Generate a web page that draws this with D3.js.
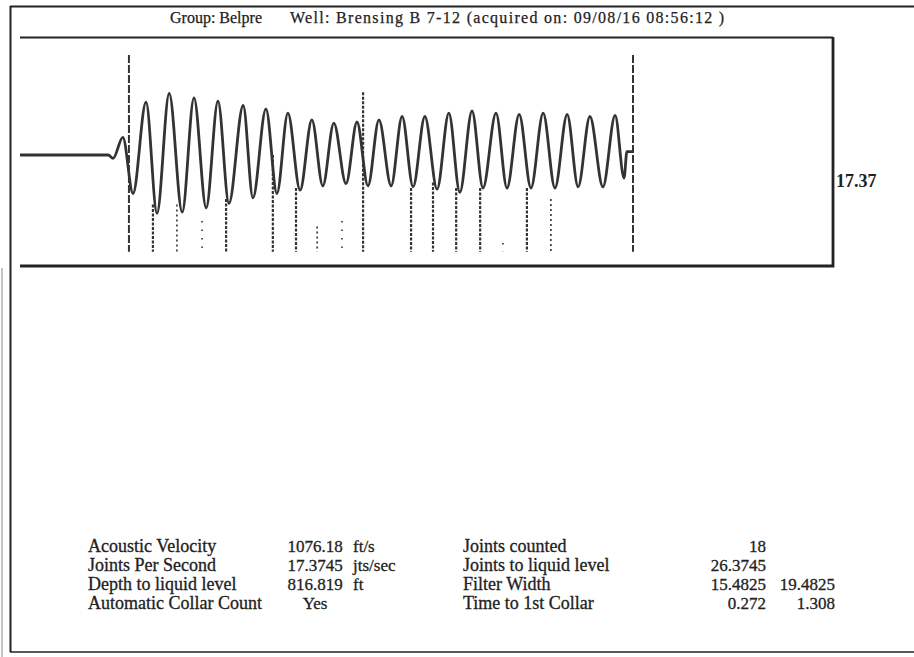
<!DOCTYPE html>
<html><head><meta charset="utf-8">
<script src="https://cdn.jsdelivr.net/npm/d3@7"></script>
<style>body{margin:0;background:#fff;} svg{display:block}</style>
</head><body>
<svg id="c" width="914" height="657"></svg>
<script>
// ---------- data ----------
const titleGroup = "Group: Belpre";
const titleWell = "Well: Brensing B 7-12 (acquired on: 09/08/16 08:56:12 )";

// acoustic trace: time (s) and amplitude of extrema/knots
const waveTime = [0, 0.217, 0.229, 0.253, 0.278, 0.310, 0.337, 0.367, 0.399, 0.428, 0.458, 0.487, 0.514, 0.549, 0.573, 0.605, 0.632, 0.659, 0.689, 0.718, 0.745, 0.772, 0.802, 0.829, 0.856, 0.883, 0.913, 0.940, 0.967, 0.996, 1.026, 1.055, 1.082, 1.112, 1.139, 1.171, 1.198, 1.228, 1.257, 1.287, 1.316, 1.346, 1.373, 1.402, 1.434, 1.464, 1.486, 1.493, 1.508];
const waveAmp  = [0, 0, -0.03, 0.16, -0.35, 0.48, -0.53, 0.56, -0.52, 0.52, -0.48, 0.49, -0.44, 0.45, -0.39, 0.42, -0.35, 0.38, -0.32, 0.32, -0.28, 0.29, -0.26, 0.30, -0.28, 0.32, -0.28, 0.35, -0.29, 0.35, -0.31, 0.38, -0.34, 0.40, -0.30, 0.38, -0.30, 0.37, -0.30, 0.38, -0.30, 0.37, -0.29, 0.35, -0.29, 0.36, -0.21, 0.03, 0.03];

// window markers (s)
const markerTimes = [0.268, 1.508];
// detected collars (s), detection strength, top of the collar tick (amplitude)
const collarTimes    = [0.327, 0.386, 0.448, 0.507, 0.622, 0.679, 0.731, 0.792, 0.844, 0.962, 1.016, 1.073, 1.132, 1.188, 1.247, 1.306];
const collarStrength = [1, 0.6, 0.2, 1, 1, 1, 0.3, 0.2, 1, 1, 1, 1, 1, 0.2, 1, 0.3];
const collarTop      = [-0.45, -0.45, -0.6, -0.4, 0.0, -0.3, -0.65, -0.6, 0.57, -0.3, -0.25, -0.3, -0.3, -0.8, -0.3, -0.4];

const jpsLabel = "17.37";

const leftLabels  = ["Acoustic Velocity", "Joints Per Second", "Depth to liquid level", "Automatic Collar Count"];
const leftValues  = ["1076.18", "17.3745", "816.819", "Yes"];
const leftUnits   = ["ft/s", "jts/sec", "ft", ""];
const rightLabels = ["Joints counted", "Joints to liquid level", "Filter Width", "Time to 1st Collar"];
const rightValues = ["18", "26.3745", "15.4825", "0.272"];
const extraValues = ["", "", "19.4825", "1.308"];

// ---------- drawing ----------
const svg = d3.select("#c");
const ink = "#222";
const serif = "'Liberation Serif', 'Times New Roman', serif";

const x = d3.scaleLinear().domain([0, 2]).range([20, 833]);
const y = d3.scaleLinear().domain([-1, 1]).range([265, 45]);

// outer frame
svg.append("line").attr("x1", 10).attr("x2", 914).attr("y1", 6.5).attr("y2", 6.5).attr("stroke", ink).attr("stroke-width", 2);
svg.append("line").attr("x1", 10).attr("x2", 914).attr("y1", 652).attr("y2", 652).attr("stroke", ink).attr("stroke-width", 1.5);
svg.append("line").attr("x1", 10.5).attr("x2", 10.5).attr("y1", 6).attr("y2", 652).attr("stroke", ink).attr("stroke-width", 2);
svg.append("line").attr("x1", 2).attr("x2", 2).attr("y1", 268).attr("y2", 657).attr("stroke", "#888").attr("stroke-width", 1);

// title
const ttl = svg.append("g").attr("font-family", serif).attr("font-size", 16).attr("fill", ink)
  .attr("stroke", ink).attr("stroke-width", 0.25);
ttl.append("text").attr("x", 170).attr("y", 23).text(titleGroup);
ttl.append("text").attr("x", 290).attr("y", 23).attr("letter-spacing", 1.3).text(titleWell);

// plot box (top, right, bottom)
svg.append("path")
  .attr("d", `M${x(0)},37.5 H833`)
  .attr("fill", "none").attr("stroke", ink).attr("stroke-width", 2);
svg.append("path")
  .attr("d", `M833,37 V266 H${x(0)}`)
  .attr("fill", "none").attr("stroke", ink).attr("stroke-width", 2.8);

// collar ticks
const dashFor = d3.scaleThreshold().domain([0.25, 0.8]).range(["1.5,7", "2,3", "3,1.5"]);
svg.append("g").selectAll("line").data(collarTimes).join("line")
  .attr("x1", d => x(d)).attr("x2", d => x(d))
  .attr("y1", (d, i) => y(collarTop[i])).attr("y2", y(-0.88))
  .attr("stroke", "#333")
  .attr("stroke-width", (d, i) => collarStrength[i] >= 0.8 ? 2.2 : 1.6)
  .attr("stroke-dasharray", (d, i) => dashFor(collarStrength[i]));

// window markers
svg.append("g").selectAll("line").data(markerTimes).join("line")
  .attr("x1", d => x(d)).attr("x2", d => x(d))
  .attr("y1", y(0.91)).attr("y2", y(-0.88))
  .attr("stroke", "#333").attr("stroke-width", 2)
  .attr("stroke-dasharray", "8,2");

// trace
const line = d3.line().x(d => x(d[0])).y(d => y(d[1])).curve(d3.curveMonotoneX);
svg.append("path")
  .datum(waveTime.map((t, i) => [t, waveAmp[i]]))
  .attr("d", line).attr("fill", "none")
  .attr("stroke", "#333").attr("stroke-width", 2.8).attr("stroke-linejoin", "round");

// joints-per-second label
svg.append("text").attr("x", 836).attr("y", 187).attr("font-family", serif)
  .attr("font-size", 18).attr("font-weight", "bold").attr("fill", ink).text(jpsLabel);

// table
const rowY = d3.scalePoint().domain(d3.range(leftLabels.length)).range([552, 609]);
const tbl = svg.append("g").attr("font-family", serif).attr("fill", ink)
  .attr("stroke", ink).attr("stroke-width", 0.3);
function col(arr, xp, anchor, size) {
  tbl.append("g").attr("font-size", size).selectAll("text").data(arr).join("text")
    .attr("x", xp).attr("y", (d, i) => rowY(i)).attr("text-anchor", anchor).text(d => d);
}
col(leftLabels, 88, "start", 18);
col(leftValues, 315, "middle", 17);
col(leftUnits, 353, "start", 17);
col(rightLabels, 463, "start", 18);
col(rightValues, 766, "end", 17);
col(extraValues, 835, "end", 17);
</script>
</body></html>
